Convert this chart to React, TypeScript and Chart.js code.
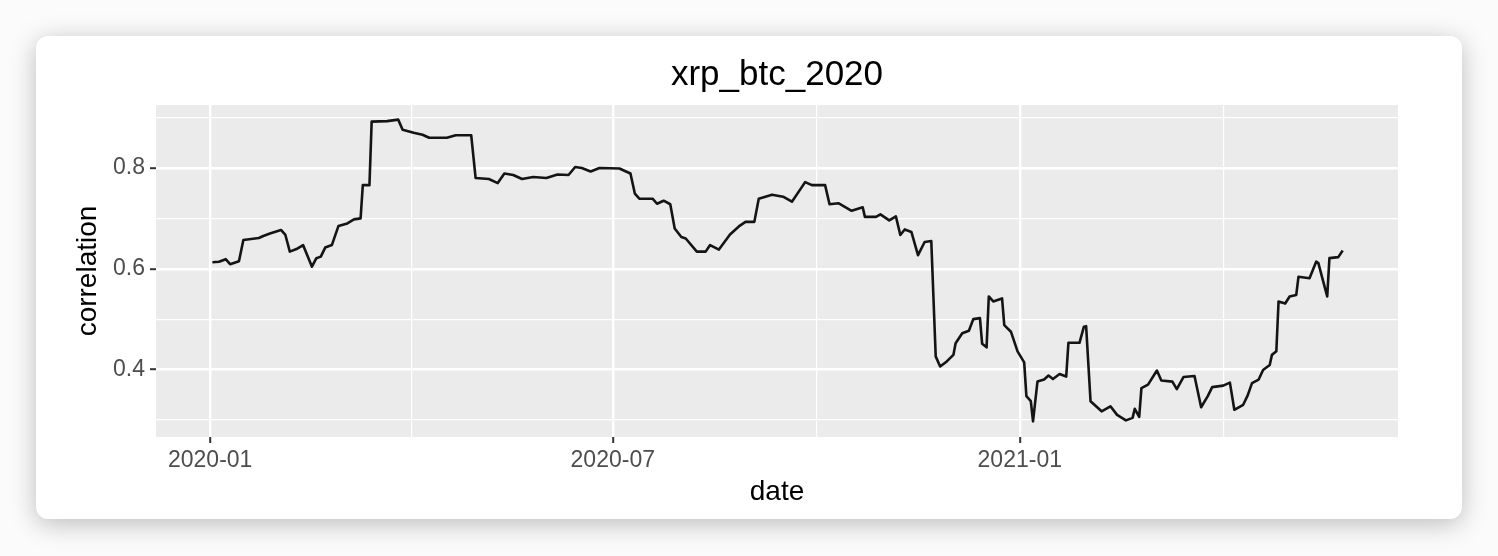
import React, { useEffect, useRef } from "react";
import { Chart, registerables } from "chart.js";

Chart.register(...registerables);

// Days since 2020-01-01
const dayOffsets = [
  1, 4, 7, 9, 13, 15, 22, 24, 27, 32, 34, 36, 39, 42, 43, 46, 48, 50, 52, 55,
  58, 62, 65, 68, 69, 72, 73, 80, 85, 87, 92, 96, 99, 107, 111, 118, 120, 126, 130, 133,
  137, 141, 146, 152, 157, 162, 165, 168, 172, 176, 185, 190, 192, 194, 200, 202, 205, 208, 210, 213,
  215, 220, 224, 226, 230, 235, 239, 242, 246, 248, 254, 259, 263, 267, 269, 272, 278, 280, 284, 290,
  295, 296, 301, 303, 307, 310, 312, 314, 317, 320, 323, 326, 328, 330, 333, 336, 337, 340, 343, 345,
  348, 349, 351, 352, 354, 358, 359, 362, 365, 368, 369, 371, 372, 374, 377, 379, 381, 384, 387, 388,
  393, 395, 396, 398, 403, 407, 410, 414, 417, 418, 420, 421, 424, 428, 430, 435, 437, 440, 445, 448,
  451, 453, 458, 461, 463, 467, 469, 471, 474, 476, 479, 480, 482, 483, 486, 488, 491, 492, 497, 500,
  501, 503, 505, 506, 510, 512,
];

const correlation = [
  0.613, 0.614, 0.619, 0.609, 0.615, 0.657, 0.661, 0.665, 0.670, 0.677, 0.667, 0.634, 0.639, 0.647, 0.636, 0.604, 0.621, 0.624, 0.642, 0.647,
  0.685, 0.690, 0.698, 0.700, 0.766, 0.766, 0.892, 0.893, 0.896, 0.876, 0.870, 0.866, 0.860, 0.860, 0.865, 0.865, 0.780, 0.778, 0.770, 0.789,
  0.786, 0.778, 0.782, 0.780, 0.787, 0.786, 0.802, 0.800, 0.793, 0.800, 0.799, 0.789, 0.749, 0.739, 0.739, 0.729, 0.735, 0.728, 0.680, 0.663,
  0.660, 0.634, 0.634, 0.647, 0.638, 0.668, 0.684, 0.693, 0.693, 0.739, 0.747, 0.743, 0.733, 0.759, 0.772, 0.766, 0.766, 0.728, 0.730, 0.715,
  0.722, 0.703, 0.703, 0.708, 0.696, 0.704, 0.667, 0.678, 0.673, 0.627, 0.653, 0.655, 0.426, 0.406, 0.416, 0.429, 0.452, 0.472, 0.477, 0.500,
  0.502, 0.451, 0.444, 0.545, 0.535, 0.541, 0.488, 0.475, 0.436, 0.414, 0.347, 0.337, 0.297, 0.376, 0.380, 0.388, 0.381, 0.391, 0.386, 0.453,
  0.453, 0.485, 0.486, 0.337, 0.317, 0.327, 0.310, 0.299, 0.304, 0.322, 0.306, 0.363, 0.370, 0.398, 0.378, 0.376, 0.361, 0.385, 0.387, 0.325,
  0.347, 0.365, 0.368, 0.374, 0.320, 0.330, 0.348, 0.373, 0.380, 0.399, 0.409, 0.429, 0.436, 0.535, 0.531, 0.545, 0.548, 0.584, 0.581, 0.614,
  0.611, 0.578, 0.545, 0.621, 0.623, 0.636,
];

// Axis breaks
const xMajorTicks = [0, 182, 366];
const xMajorLabels = ["2020-01", "2020-07", "2021-01"];
const xMinorTicks = [91, 274, 458];
const yMajorTicks = [0.4, 0.6, 0.8];
const yMinorTicks = [0.3, 0.5, 0.7, 0.9];

const FONT = "'Liberation Sans', Arial, Helvetica, sans-serif";

const panelBg = {
  id: "panelBg",
  beforeDraw(chart: any) {
    const { ctx, chartArea } = chart;
    if (!chartArea) return;
    ctx.save();
    ctx.fillStyle = "#ebebeb";
    ctx.fillRect(chartArea.left, chartArea.top, chartArea.right - chartArea.left, chartArea.bottom - chartArea.top);
    ctx.restore();
  },
};

const isMajorX = (v: number) => xMajorTicks.some((t) => Math.abs(t - v) < 0.01);
const isMajorY = (v: number) => yMajorTicks.some((t) => Math.abs(t - v) < 1e-6);

export default function App() {
  const canvasRef = useRef<HTMLCanvasElement | null>(null);

  useEffect(() => {
    if (!canvasRef.current) return;
    const points = dayOffsets.map((d, i) => ({ x: d, y: correlation[i] }));
    const chart = new Chart(canvasRef.current, {
      type: "line",
      data: {
        datasets: [
          {
            data: points,
            borderColor: "#141414",
            borderWidth: 2.6,
            pointRadius: 0,
            tension: 0,
            fill: false,
            borderJoinStyle: "round",
          },
        ],
      },
      plugins: [panelBg],
      options: {
        animation: false,
        responsive: true,
        maintainAspectRatio: false,
        layout: { padding: { left: 0, right: 64, top: 0, bottom: 0 } },
        plugins: {
          legend: { display: false },
          tooltip: { enabled: false },
          title: {
            display: true,
            text: "xrp_btc_2020",
            fullSize: false,
            color: "#000",
            font: { family: FONT, size: 35, weight: "normal" },
            padding: { top: 18, bottom: 9 },
          },
        },
        scales: {
          x: {
            type: "linear",
            min: -24.5,
            max: 537,
            afterBuildTicks: (scale: any) => {
              scale.ticks = [...xMajorTicks, ...xMinorTicks].sort((a, b) => a - b).map((v) => ({ value: v }));
            },
            afterFit: (scale: any) => {
              scale.height = 82;
            },
            ticks: {
              autoSkip: false,
              maxRotation: 0,
              padding: 4,
              color: "#4d4d4d",
              font: { family: FONT, size: 23 },
              callback: (v: any) => {
                const i = xMajorTicks.findIndex((t) => Math.abs(t - v) < 0.01);
                return i >= 0 ? xMajorLabels[i] : "";
              },
            },
            grid: {
              color: "#ffffff",
              lineWidth: (c: any) => (c.tick && isMajorX(c.tick.value) ? 2.4 : 1.2),
              drawTicks: true,
              tickLength: 6,
              tickWidth: 2,
              tickColor: (c: any) => (c.tick && isMajorX(c.tick.value) ? "#333333" : "rgba(0,0,0,0)"),
            },
            border: { display: false },
            title: {
              display: true,
              text: "date",
              color: "#000",
              font: { family: FONT, size: 28 },
              padding: { top: 0, bottom: 10 },
            },
          },
          y: {
            type: "linear",
            min: 0.266,
            max: 0.925,
            afterBuildTicks: (scale: any) => {
              scale.ticks = [...yMajorTicks, ...yMinorTicks].sort((a, b) => a - b).map((v) => ({ value: v }));
            },
            afterFit: (scale: any) => {
              scale.width = 120;
            },
            ticks: {
              autoSkip: false,
              padding: 5,
              color: "#4d4d4d",
              font: { family: FONT, size: 23 },
              callback: (v: any) => (isMajorY(Number(v)) ? Number(v).toFixed(1) : ""),
            },
            grid: {
              color: "#ffffff",
              lineWidth: (c: any) => (c.tick && isMajorY(c.tick.value) ? 2.4 : 1.2),
              drawTicks: true,
              tickLength: 6,
              tickWidth: 2,
              tickColor: (c: any) => (c.tick && isMajorY(c.tick.value) ? "#333333" : "rgba(0,0,0,0)"),
            },
            border: { display: false },
            title: {
              display: true,
              text: "correlation",
              color: "#000",
              font: { family: FONT, size: 28 },
              padding: { top: 35, bottom: 0 },
            },
          },
        },
      },
    });
    return () => chart.destroy();
  }, []);

  return (
    <div
      style={{
        position: "absolute",
        left: 0,
        top: 0,
        width: 1498,
        height: 556,
        background: "#fbfbfb",
        overflow: "hidden",
      }}
    >
      <div
        style={{
          position: "absolute",
          left: 36,
          top: 36,
          width: 1426,
          height: 483,
          background: "#ffffff",
          borderRadius: 12,
          boxShadow: "0 5px 26px rgba(0,0,0,0.25)",
          overflow: "hidden",
        }}
      >
        <div style={{ position: "absolute", left: 0, top: 0, width: 1426, height: 483 }}>
          <canvas ref={canvasRef} />
        </div>
      </div>
    </div>
  );
}
